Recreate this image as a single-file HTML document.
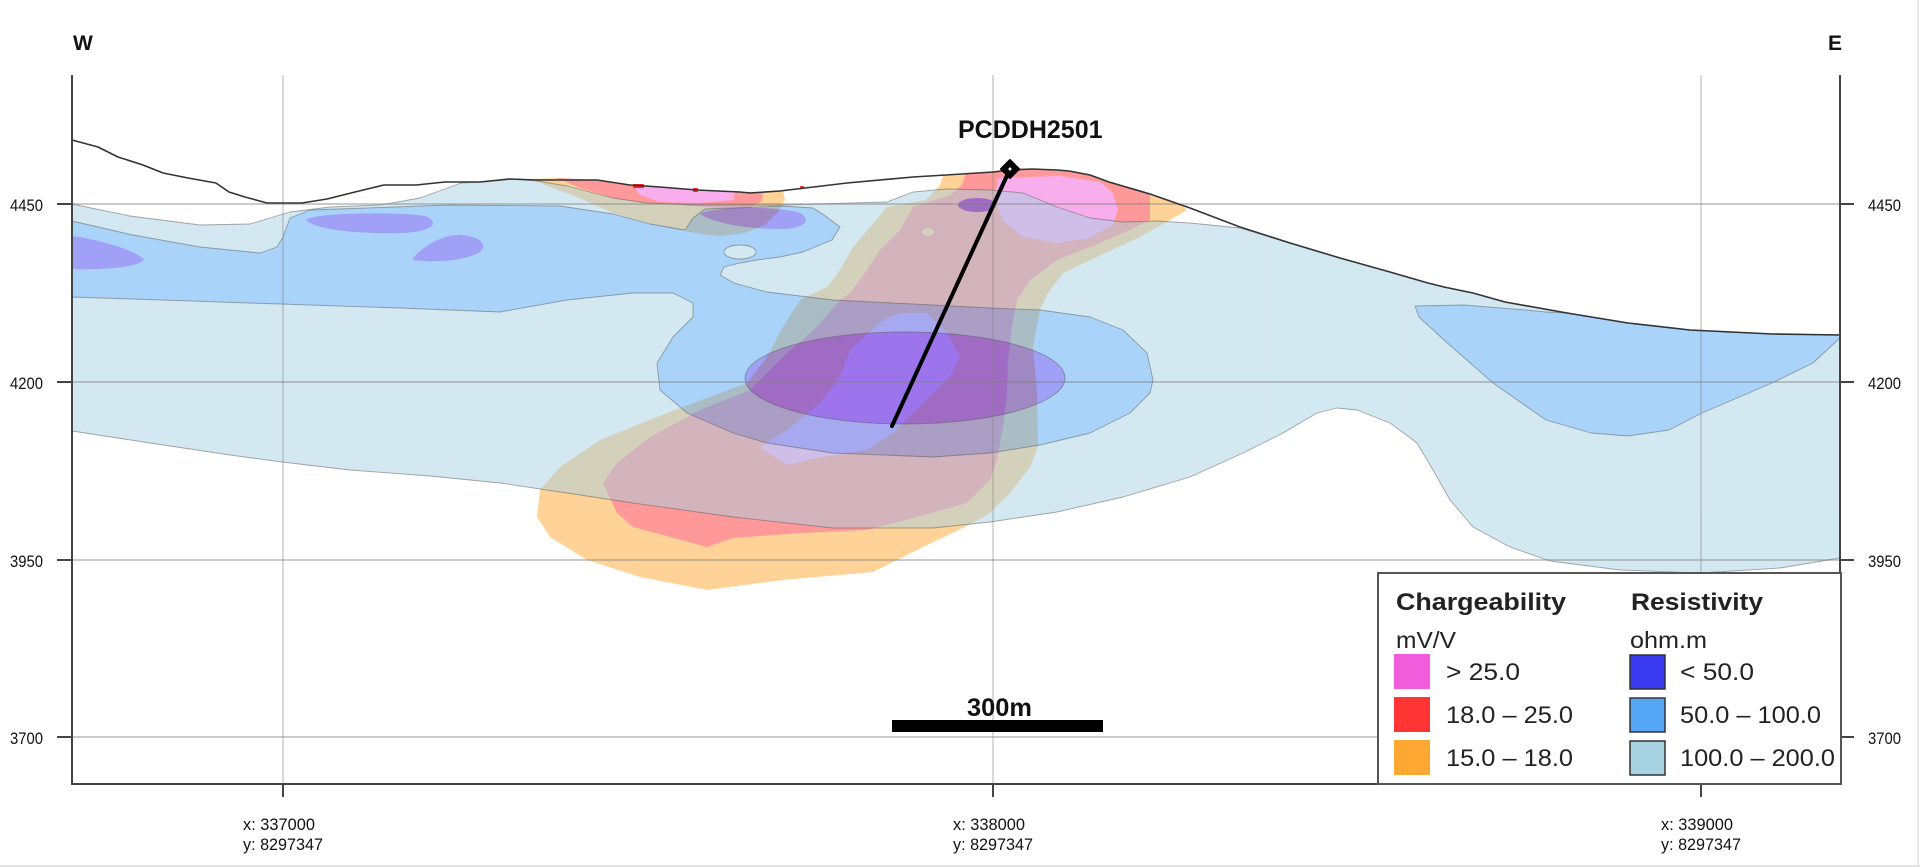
<!DOCTYPE html>
<html>
<head>
<meta charset="utf-8">
<style>
html,body{margin:0;padding:0;background:#fff;}
svg{display:block;}
</style>
</head>
<body>
<svg width="1920" height="867" viewBox="0 0 1920 867" xmlns="http://www.w3.org/2000/svg" font-family="'Liberation Sans', Arial, sans-serif">
<defs>
  <path id="lb" d="M72,204 L130,216 L200,225 L250,224 L290,212 L330,207 L380,205 L420,198 L461,183 L480,182 L510,179 L537,181 L567,186 L613,198 L647,203 L693,205 L780,205 L887,202 L913,192 L947,189 L990,190 L1023,193 L1057,207 L1090,218 L1123,222 L1157,221 L1190,223 L1240,228 L1290,243 L1340,258 L1390,272 L1428,283 L1444,287 L1473,293 L1505,302 L1567,313 L1628,323 L1690,330 L1772,334 L1840,335 L1840,558 L1780,568 L1700,573 L1620,570 L1550,561 L1510,547 L1473,527 L1450,500 L1433,470 L1417,443 L1390,423 L1357,410 L1337,408 L1317,413 L1283,433 L1243,453 L1190,477 L1123,497 L1057,512 L990,522 L933,528 L833,528 L733,517 L633,503 L567,493 L500,483 L430,476 L350,470 L282,462 L230,455 L150,443 L72,431 Z"/>
  <path id="mb1" d="M72,221 L133,235 L200,247 L260,253 L277,247 L283,237 L290,218 L310,210 L367,208 L449,205 L560,206 L613,214 L650,224 L685,230 L693,218 L705,209 L783,206 L813,208 L824,215 L840,227 L832,240 L803,252 L780,257 L757,260 L740,263 L724,267 L720,275 L734,283 L767,292 L833,300 L933,305 L990,308 L1040,310 L1090,317 L1123,330 L1147,353 L1153,380 L1150,393 L1130,413 L1090,433 L1040,445 L990,453 L933,457 L833,453 L767,443 L733,433 L687,413 L660,390 L657,363 L673,337 L693,317 L693,303 L673,293 L633,293 L567,300 L500,312 L400,308 L250,303 L72,297 Z"/>
  <path id="mb2" d="M1415,306 L1464,305 L1526,310 L1546,312 L1567,313 L1628,323 L1690,330 L1772,334 L1840,335 L1840,338 L1813,363 L1772,383 L1702,413 L1669,430 L1628,436 L1591,433 L1546,420 L1493,383 L1444,340 L1419,317 Z"/>
  <path id="db1" d="M72,236 C100,240 132,249 144,259 C140,268 100,270 72,269 Z"/>
  <path id="db2" d="M306,220 C315,212 400,212 425,216 C440,222 435,232 400,233 C360,234 315,230 306,220 Z"/>
  <path id="db3" d="M412,260 C420,248 440,235 460,235 C480,236 490,245 478,253 C465,260 440,263 412,260 Z"/>
  <path id="db4" d="M700,214 C715,206 780,206 800,213 C812,220 805,229 780,229 C750,229 715,224 700,214 Z"/>
  <ellipse id="db5" cx="977" cy="205" rx="19" ry="7"/>
  <ellipse id="db6" cx="905" cy="378" rx="160" ry="46"/>
  <ellipse id="hole" cx="740" cy="252" rx="16" ry="7"/>
</defs>

<!-- Chargeability layer -->
<g opacity="0.5" stroke-linejoin="round">
  <path fill="#ffa733" d="M531,179 L557,178 L597,180 L630,185 L660,187 L697,190 L740,192 L783,191 L785,200 L778,212 L765,225 L745,233 L720,236 L700,234 L680,230 L647,223 L613,213 L577,197 L545,185 Z"/>
  <path fill="#ff3535" d="M557,178 L597,180 L630,185 L660,187 L697,190 L740,192 L763,192 L762,201 L750,208 L730,209 L693,206 L647,203 L613,198 L580,188 Z"/>
  <path fill="#f25ddb" d="M633,186 L660,187 L697,190 L735,192 L733,200 L700,203 L660,202 L640,195 Z"/>
  <path fill="#ffa733" d="M943,176 L993,172 L1010,170 L1032,169 L1057,170 L1069,171 L1090,175 L1109,182 L1150,194 L1183,206 L1187,210 L1170,220 L1140,237 L1097,257 L1063,273 L1048,293 L1040,310 L1033,347 L1037,393 L1038,447 L1030,467 L1010,493 L990,513 L973,523 L917,550 L873,572 L783,580 L707,590 L640,577 L587,560 L550,537 L537,517 L540,490 L560,467 L600,440 L667,413 L747,383 L767,357 L783,327 L800,300 L827,287 L840,270 L853,247 L870,227 L887,207 L926,200 L940,185 Z"/>
  <path fill="#ff3535" d="M966,173 L993,172 L1010,170 L1032,169 L1057,170 L1069,171 L1090,175 L1109,182 L1150,194 L1150,220 L1123,233 L1090,247 L1057,260 L1030,280 L1017,300 L1012,327 L1008,360 L1007,393 L1003,427 L997,460 L990,480 L967,503 L917,517 L867,530 L800,533 L733,538 L707,547 L633,527 L617,513 L603,483 L617,463 L650,437 L700,410 L750,390 L783,357 L817,327 L840,300 L850,293 L867,270 L880,250 L900,230 L913,207 L950,195 L962,185 Z"/>
  <path fill="#f25ddb" d="M998,178 L1060,176 L1100,182 L1113,193 L1118,210 L1113,225 L1090,238 L1057,243 L1023,237 L1002,220 L995,198 Z"/>
  <path fill="#f25ddb" d="M883,320 L900,313 L927,313 L947,333 L960,357 L950,377 L893,433 L867,450 L817,458 L787,465 L760,447 L787,430 L820,403 L840,377 L850,350 Z"/>
  <ellipse cx="928" cy="232" rx="6" ry="4" fill="#ffa733"/>
</g>

<!-- Resistivity layer -->
<g opacity="0.48">
  <use href="#lb" fill="#a4d1e3"/>
  <use href="#mb1" fill="#4fa5f5"/>
  <use href="#mb2" fill="#4fa5f5"/>
  <use href="#hole" fill="#a4d1e3"/>
  <use href="#db1" fill="#3a3af0"/>
  <use href="#db2" fill="#3a3af0"/>
  <use href="#db3" fill="#3a3af0"/>
  <use href="#db4" fill="#3a3af0"/>
  <use href="#db5" fill="#3a3af0"/>
  <use href="#db6" fill="#3a3af0"/>
</g>
<!-- outlines -->
<g fill="none" stroke="#555" stroke-opacity="0.5" stroke-width="0.9" stroke-linejoin="round">
  <use href="#lb"/>
  <use href="#mb1"/>
  <use href="#mb2"/>
  <use href="#hole"/>
  <use href="#db6"/>
</g>

<!-- small red marks at surface -->
<g fill="#ff2020">
  <rect x="633" y="184" width="11" height="4" rx="1"/>
  <rect x="693" y="188" width="5" height="4" rx="1"/>
  <rect x="800" y="186" width="4" height="3" rx="1"/>
</g>

<!-- gridlines -->
<g stroke="#808080" stroke-opacity="0.55" stroke-width="1.4">
  <line x1="72" y1="204" x2="1840" y2="204"/>
  <line x1="72" y1="382" x2="1840" y2="382"/>
  <line x1="72" y1="560" x2="1840" y2="560"/>
  <line x1="72" y1="737" x2="1840" y2="737"/>
</g>
<g stroke="#808080" stroke-opacity="0.6" stroke-width="1">
  <line x1="283" y1="75" x2="283" y2="784"/>
  <line x1="993" y1="75" x2="993" y2="784"/>
  <line x1="1701" y1="75" x2="1701" y2="784"/>
</g>

<!-- topography -->
<polyline fill="none" stroke="#333" stroke-width="1.6" stroke-linejoin="round" points="72,140 98,147 118,157 143,165 163,173 188,178 216,183 229,192 245,197 267,203 302,203 327,199 355,192 384,185 416,185 445,182 480,182 510,179 537,180 597,180 630,185 660,187 697,190 740,192 750,193 780,191 847,183 913,177 946,175 993,172 1010,170 1032,169 1057,170 1069,171 1090,175 1109,182 1150,194 1190,208 1240,227 1290,243 1340,258 1390,272 1428,283 1444,287 1473,293 1505,302 1567,313 1628,323 1690,330 1772,334 1840,335"/>

<!-- drill hole -->
<line x1="1010" y1="169" x2="892" y2="426" stroke="#000" stroke-width="4" stroke-linecap="round"/>
<polygon points="1010,160 1019,169 1010,178 1001,169" fill="#000" stroke="#000" stroke-width="2" stroke-linejoin="round"/>
<circle cx="1010" cy="169" r="1.5" fill="#fff"/>
<text x="958" y="138" font-size="25" font-weight="bold" fill="#111">PCDDH2501</text>

<!-- axes -->
<g stroke="#444" stroke-width="2">
  <line x1="72" y1="75" x2="72" y2="785"/>
  <line x1="1840" y1="75" x2="1840" y2="785"/>
  <line x1="71" y1="784" x2="1841" y2="784"/>
  <line x1="57" y1="204" x2="72" y2="204"/>
  <line x1="57" y1="382" x2="72" y2="382"/>
  <line x1="57" y1="560" x2="72" y2="560"/>
  <line x1="57" y1="737" x2="72" y2="737"/>
  <line x1="1840" y1="204" x2="1854" y2="204"/>
  <line x1="1840" y1="382" x2="1854" y2="382"/>
  <line x1="1840" y1="560" x2="1854" y2="560"/>
  <line x1="1840" y1="737" x2="1854" y2="737"/>
  <line x1="283" y1="784" x2="283" y2="797"/>
  <line x1="993" y1="784" x2="993" y2="797"/>
  <line x1="1701" y1="784" x2="1701" y2="797"/>
</g>

<!-- tick labels -->
<g font-size="16.5" fill="#111">
  <text x="10" y="211" textLength="33" lengthAdjust="spacingAndGlyphs">4450</text>
  <text x="10" y="389" textLength="33" lengthAdjust="spacingAndGlyphs">4200</text>
  <text x="10" y="567" textLength="33" lengthAdjust="spacingAndGlyphs">3950</text>
  <text x="10" y="744" textLength="33" lengthAdjust="spacingAndGlyphs">3700</text>
  <text x="1868" y="211" textLength="33" lengthAdjust="spacingAndGlyphs">4450</text>
  <text x="1868" y="389" textLength="33" lengthAdjust="spacingAndGlyphs">4200</text>
  <text x="1868" y="567" textLength="33" lengthAdjust="spacingAndGlyphs">3950</text>
  <text x="1868" y="744" textLength="33" lengthAdjust="spacingAndGlyphs">3700</text>
  <text x="243" y="830" textLength="72" lengthAdjust="spacingAndGlyphs">x: 337000</text>
  <text x="243" y="850" textLength="80" lengthAdjust="spacingAndGlyphs">y: 8297347</text>
  <text x="953" y="830" textLength="72" lengthAdjust="spacingAndGlyphs">x: 338000</text>
  <text x="953" y="850" textLength="80" lengthAdjust="spacingAndGlyphs">y: 8297347</text>
  <text x="1661" y="830" textLength="72" lengthAdjust="spacingAndGlyphs">x: 339000</text>
  <text x="1661" y="850" textLength="80" lengthAdjust="spacingAndGlyphs">y: 8297347</text>
</g>

<text x="73" y="50" font-size="21" font-weight="bold" fill="#111">W</text>
<text x="1828" y="50" font-size="21" font-weight="bold" fill="#111">E</text>

<!-- scale bar -->
<rect x="892" y="720" width="211" height="12" fill="#000"/>
<text x="967" y="716" font-size="25" font-weight="bold" fill="#111" textLength="65" lengthAdjust="spacingAndGlyphs">300m</text>

<!-- legend -->
<rect x="1378" y="573" width="463" height="211" fill="#fff" stroke="#555" stroke-width="2"/>
<g fill="#222">
  <text x="1396" y="610" font-size="24" font-weight="bold" textLength="170" lengthAdjust="spacingAndGlyphs">Chargeability</text>
  <text x="1631" y="610" font-size="24" font-weight="bold" textLength="132" lengthAdjust="spacingAndGlyphs">Resistivity</text>
  <text x="1396" y="648" font-size="23" textLength="60" lengthAdjust="spacingAndGlyphs">mV/V</text>
  <text x="1630" y="648" font-size="23" textLength="77" lengthAdjust="spacingAndGlyphs">ohm.m</text>
  <text x="1446" y="680" font-size="24" textLength="74" lengthAdjust="spacingAndGlyphs">&gt; 25.0</text>
  <text x="1446" y="723" font-size="24" textLength="127" lengthAdjust="spacingAndGlyphs">18.0 – 25.0</text>
  <text x="1446" y="766" font-size="24" textLength="127" lengthAdjust="spacingAndGlyphs">15.0 – 18.0</text>
  <text x="1680" y="680" font-size="24" textLength="74" lengthAdjust="spacingAndGlyphs">&lt; 50.0</text>
  <text x="1680" y="723" font-size="24" textLength="141" lengthAdjust="spacingAndGlyphs">50.0 – 100.0</text>
  <text x="1680" y="766" font-size="24" textLength="155" lengthAdjust="spacingAndGlyphs">100.0 – 200.0</text>
</g>
<rect x="1394" y="654" width="36" height="35" fill="#f25ddb"/>
<rect x="1394" y="697" width="36" height="35" fill="#ff3535"/>
<rect x="1394" y="740" width="36" height="35" fill="#ffa733"/>
<rect x="1630" y="655" width="35" height="34" fill="#3a3af0" stroke="#333" stroke-width="1.5"/>
<rect x="1630" y="698" width="35" height="34" fill="#54a6f5" stroke="#333" stroke-width="1.5"/>
<rect x="1630" y="741" width="35" height="34" fill="#a8d3e3" stroke="#333" stroke-width="1.5"/>

<!-- image border -->
<line x1="0" y1="866" x2="1920" y2="866" stroke="#dcdcdc" stroke-width="1.5"/>
<line x1="1918" y1="0" x2="1918" y2="867" stroke="#e4e4e4" stroke-width="1.5"/>
</svg>
</body>
</html>
